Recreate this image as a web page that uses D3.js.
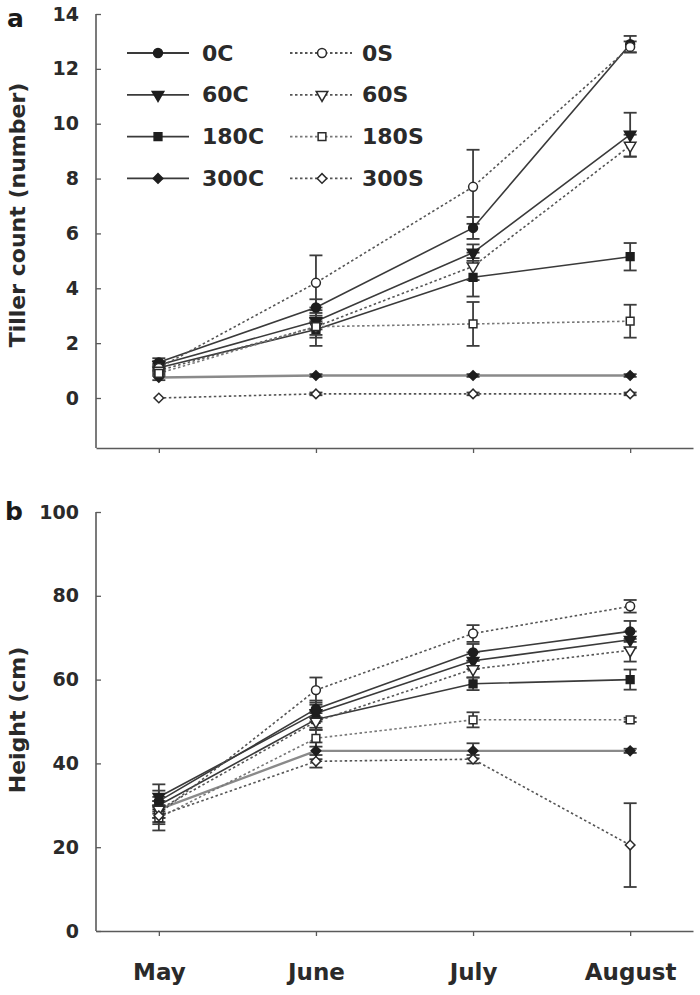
<!DOCTYPE html>
<html><head><meta charset="utf-8">
<script src="https://cdn.jsdelivr.net/npm/d3@7"></script>
<style>body{margin:0;background:#fff}</style>
</head><body>
<svg id="c" width="700" height="995" xmlns="http://www.w3.org/2000/svg"></svg>
<script>
// ---------- data ----------
const months = ["May", "June", "July", "August"];
const seriesNames = ["0C", "60C", "180C", "300C", "0S", "60S", "180S", "300S"];
const tillerTicks = [0, 2, 4, 6, 8, 10, 12, 14];
const heightTicks = [0, 20, 40, 60, 80, 100];

// tiller count (number), one row per series in seriesNames order
const tillerMeans = [
  [1.3, 3.3, 6.2, 12.9],
  [1.2, 2.8, 5.3, 9.6],
  [1.1, 2.5, 4.4, 5.15],
  [0.75, 0.82, 0.82, 0.82],
  [1.1, 4.2, 7.7, 12.8],
  [1.0, 2.6, 4.8, 9.2],
  [0.9, 2.6, 2.7, 2.8],
  [0.0, 0.15, 0.15, 0.15]
];
const tillerErrs = [
  [0.15, 0.3, 0.4, 0.3],
  [0.15, 0.3, 0.3, 0.8],
  [0.15, 0.3, 0.7, 0.5],
  [0.1, 0.05, 0.05, 0.05],
  [0.1, 1.0, 1.35, 0.2],
  [0.1, 0.3, 0.5, 0.4],
  [0.1, 0.7, 0.8, 0.6],
  [0.0, 0.05, 0.05, 0.05]
];
// height (cm)
const heightMeans = [
  [31, 53, 66.5, 71.5],
  [32, 52, 64.5, 69.5],
  [30, 50.5, 59, 60],
  [29, 43, 43, 43],
  [28, 57.5, 71, 77.5],
  [29, 50, 62.5, 67],
  [27, 46, 50.4, 50.4],
  [27.5, 40.5, 41, 20.5]
];
const heightErrs = [
  [2.5, 2, 2, 2.5],
  [3, 2, 2, 2],
  [2, 2, 1.5, 2.4],
  [2, 2, 1.8, 0.5],
  [2, 3, 2, 1.5],
  [2, 2, 2, 2.7],
  [3, 2, 1.8, 0.5],
  [2, 1.5, 1, 10]
];

// ---------- styles ----------
const shapes = ["circle", "tri", "square", "diamond", "circle", "tri", "square", "diamond"];
const filled = [true, true, true, true, false, false, false, false];
const lineColor = ["#3a3a3a", "#3a3a3a", "#3a3a3a", "#8a8a8a", "#555", "#555", "#777", "#555"];
const lineWidth = [1.6, 1.6, 1.6, 2.4, 1.6, 1.6, 1.6, 1.6];
const FONT = "'DejaVu Sans', sans-serif";

const svg = d3.select("#c");
const x = d3.scalePoint().domain(months).range([96, 693]).padding(0.4);

function symbolPath(shape) {
  if (shape === "circle") return d3.symbol(d3.symbolCircle, 62)();
  if (shape === "square") return d3.symbol(d3.symbolSquare, 60)();
  if (shape === "diamond") return d3.symbol(d3.symbolSquare, 46)();
  return d3.symbol(d3.symbolTriangle, 58)();
}
function symbolRot(shape) {
  if (shape === "diamond") return 45;
  if (shape === "tri") return 180;
  return 0;
}
function drawMarker(g, cx, cy, i) {
  g.append("path")
    .attr("d", symbolPath(shapes[i]))
    .attr("transform", `translate(${cx},${cy}) rotate(${symbolRot(shapes[i])})`)
    .attr("fill", filled[i] ? "#1e1e1e" : "#fff")
    .attr("stroke", filled[i] ? "#1e1e1e" : "#2a2a2a")
    .attr("stroke-width", 1.5);
}

function panel(means, errs, y, yTicks, topY, bottomY, showMonths) {
  const g = svg.append("g");
  const axisCol = "#5a5a5a";
  // y axis
  const ya = d3.axisLeft(y).tickValues(yTicks).tickSizeInner(-5).tickSizeOuter(0).tickPadding(17);
  const gy = g.append("g").attr("transform", "translate(96,0)").call(ya);
  gy.select(".domain").remove();
  gy.selectAll(".tick line").attr("stroke", axisCol).attr("stroke-width", 1.3);
  gy.selectAll("text").attr("font-family", FONT).attr("font-weight", "bold")
    .attr("font-size", 19).attr("fill", "#2a2a2a");
  g.append("line").attr("x1", 96).attr("x2", 96).attr("y1", topY).attr("y2", bottomY)
    .attr("stroke", axisCol).attr("stroke-width", 1.6);
  // x axis
  const xa = d3.axisBottom(x).tickSizeInner(5).tickSizeOuter(0).tickPadding(28);
  if (!showMonths) xa.tickFormat("");
  const gx = g.append("g").attr("transform", `translate(0,${bottomY})`).call(xa);
  gx.select(".domain").attr("stroke", axisCol).attr("stroke-width", 1.6);
  gx.selectAll(".tick line").attr("stroke", axisCol).attr("stroke-width", 1.3);
  gx.selectAll("text").attr("font-family", FONT).attr("font-weight", "bold")
    .attr("font-size", 23).attr("fill", "#2a2a2a");

  // lines
  const line = d3.line().x((d, j) => x(months[j])).y(d => y(d));
  means.forEach((m, i) => {
    g.append("path").datum(m).attr("d", line).attr("fill", "none")
      .attr("stroke", lineColor[i]).attr("stroke-width", lineWidth[i])
      .attr("stroke-dasharray", filled[i] ? null : "2.5,2.5");
  });
  // error bars
  means.forEach((m, i) => {
    m.forEach((v, j) => {
      const e = errs[i][j];
      if (!e) return;
      const cx = x(months[j]);
      const eg = g.append("g").attr("stroke", "#3c3c3c").attr("stroke-width", 1.8);
      eg.append("line").attr("x1", cx).attr("x2", cx).attr("y1", y(v - e)).attr("y2", y(v + e));
      [v - e, v + e].forEach(b => eg.append("line").attr("x1", cx - 6.5).attr("x2", cx + 6.5)
        .attr("y1", y(b)).attr("y2", y(b)));
    });
  });
  // markers
  means.forEach((m, i) => m.forEach((v, j) => drawMarker(g, x(months[j]), y(v), i)));
}

const yA = d3.scaleLinear().domain([0, 14]).range([398, 14]);
const yB = d3.scaleLinear().domain([0, 100]).range([931, 512]);
panel(tillerMeans, tillerErrs, yA, tillerTicks, 14, 448, false);
panel(heightMeans, heightErrs, yB, heightTicks, 512, 931, true);

// axis titles & panel letters
svg.append("text").attr("transform", "translate(17,215) rotate(-90)")
  .attr("text-anchor", "middle").attr("dominant-baseline", "central")
  .attr("font-family", FONT).attr("font-weight", "bold").attr("font-size", 22).attr("fill", "#2a2a2a")
  .text("Tiller count (number)");
svg.append("text").attr("transform", "translate(17,720) rotate(-90)")
  .attr("text-anchor", "middle").attr("dominant-baseline", "central")
  .attr("font-family", FONT).attr("font-weight", "bold").attr("font-size", 22).attr("fill", "#2a2a2a")
  .text("Height (cm)");
svg.append("text").attr("x", 7).attr("y", 27).attr("font-family", FONT).attr("font-weight", "bold")
  .attr("font-size", 25).attr("fill", "#1a1a1a").text("a");
svg.append("text").attr("x", 5).attr("y", 520).attr("font-family", FONT).attr("font-weight", "bold")
  .attr("font-size", 25).attr("fill", "#1a1a1a").text("b");

// legend
const leg = svg.append("g");
seriesNames.forEach((name, i) => {
  const col = i < 4 ? 0 : 1;
  const row = i % 4;
  const cy = 53 + row * 41.8;
  const x0 = col === 0 ? 127 : 290, x1 = col === 0 ? 189 : 352, mx = col === 0 ? 158 : 322;
  const tx = col === 0 ? 202 : 362;
  leg.append("line").attr("x1", x0).attr("x2", x1).attr("y1", cy).attr("y2", cy)
    .attr("stroke", i === 3 ? "#3a3a3a" : lineColor[i]).attr("stroke-width", 1.8)
    .attr("stroke-dasharray", filled[i] ? null : "2.5,2.5");
  drawMarker(leg, mx, cy, i);
  leg.append("text").attr("x", tx).attr("y", cy).attr("dominant-baseline", "central")
    .attr("font-family", FONT).attr("font-weight", "bold").attr("font-size", 22).attr("fill", "#2a2a2a")
    .text(name);
});
</script>
</body></html>
